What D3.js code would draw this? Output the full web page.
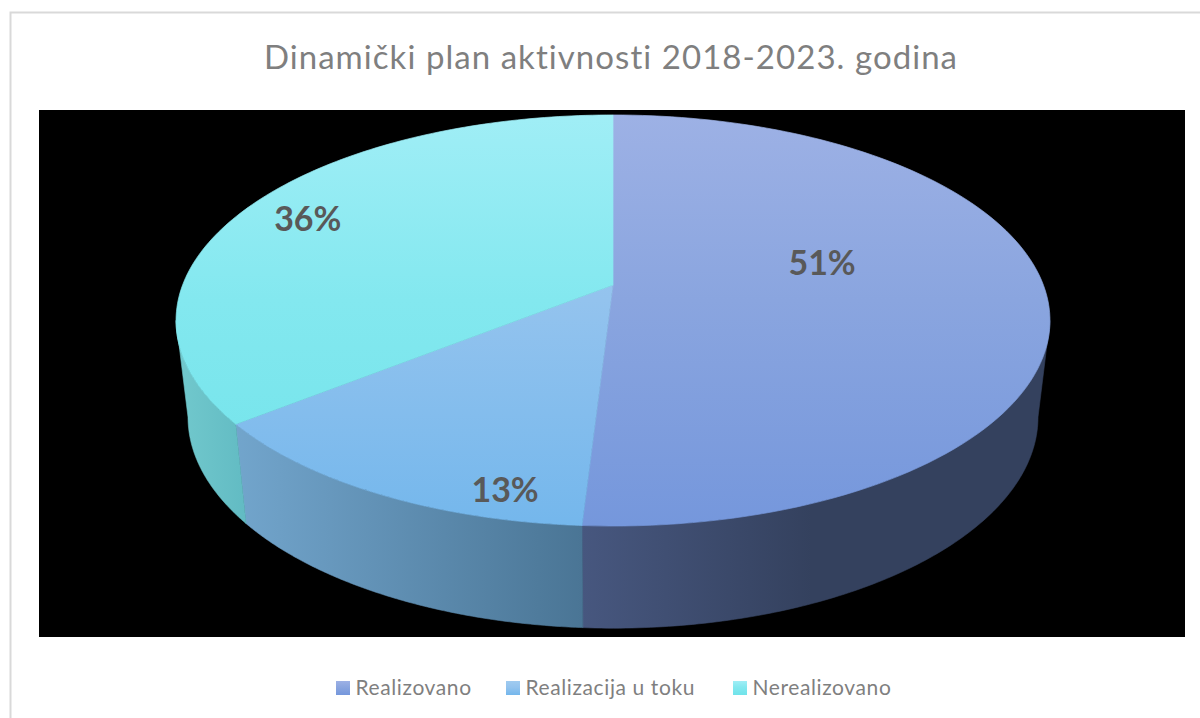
<!DOCTYPE html>
<html><head><meta charset="utf-8">
<script src="https://cdn.jsdelivr.net/npm/d3@7/dist/d3.min.js"></script>
<style>html,body{margin:0;padding:0;background:#fff}svg{display:block}</style>
</head><body><svg id="c" width="1200" height="718"></svg>
<script>
const categories = ["Realizovano", "Realizacija u toku", "Nerealizovano"];
const shares = [0.5095, 0.1335, 0.357];
const titleText = "Dinamički plan aktivnosti 2018-2023. godina";
const faceTop = ["#9db1e5", "#a0cbf0", "#a0eef6"];
const faceMid = ["#8aa5df", "#93c3ee", "#83e8ef"];
const faceBottom = ["#7597dc", "#74b7ec", "#70e3ea"];
const wallNear = ["#47577f", "#4a7595", "#62bbc3"];
const wallFar = ["#34415e", "#72a5cc", "#72c9cd"];

const svg = d3.select("#c");
const defs = svg.append("defs");

// Perspective projection of the pie disc
const C = -0.1727;
const proj = (plane, u, v) => {
  const d = 1 + C * v;
  return [plane.cx + plane.kx * u / d, plane.apex + plane.ky * v / d];
};
const topPlane = {cx: 613, apex: 285, kx: 430.4, ky: 199.4};
const lowPlane = {cx: 613, apex: 380.6, kx: 418.6, ky: 204.8};
const at = (plane, a, r = 1) => proj(plane, r * Math.sin(a), -r * Math.cos(a));

const pie = d3.pie().sort(null).value(d => d)(shares);
const line = d3.line();
const TAU = Math.PI * 2;
const rightEdge = Math.acos(C);           // silhouette angles
const leftEdge = TAU - rightEdge;
const span = (a0, a1) => d3.range(0, 121).map(i => a0 + (a1 - a0) * i / 120);

// background + frame
svg.append("rect").attr("x", 10.5).attr("y", 12.5).attr("width", 1300).attr("height", 800)
  .attr("fill", "#fff").attr("stroke", "#d9d9d9").attr("stroke-width", 2);
svg.append("rect").attr("x", 39).attr("y", 110).attr("width", 1146).attr("height", 527).attr("fill", "#000");

// gradients
pie.forEach((d, i) => {
  const addStops = g => {
    g.append("stop").attr("offset", 0).attr("stop-color", faceTop[i]);
    g.append("stop").attr("offset", 0.45).attr("stop-color", faceMid[i]);
    g.append("stop").attr("offset", 1).attr("stop-color", faceBottom[i]);
  };
  addStops(defs.append("linearGradient").attr("id", "face" + i).attr("gradientUnits", "userSpaceOnUse")
    .attr("x1", 0).attr("x2", 0).attr("y1", 115).attr("y2", 526));
  addStops(defs.append("linearGradient").attr("id", "leg" + i).attr("x1", 0).attr("x2", 0).attr("y1", 0).attr("y2", 1));
});

// walls
pie.forEach((d, i) => {
  const a0 = Math.max(d.startAngle, rightEdge), a1 = Math.min(d.endAngle, leftEdge);
  const angles = span(a0, a1);
  const upper = angles.map(a => at(topPlane, a));
  const lower = angles.map(a => at(lowPlane, a)).reverse();
  const xs = upper.concat(lower).map(p => p[0]);
  const g = defs.append("linearGradient").attr("id", "wall" + i).attr("gradientUnits", "userSpaceOnUse")
    .attr("y1", 0).attr("y2", 0)
    .attr("x1", i === 0 ? d3.min(xs) : d3.max(xs)).attr("x2", i === 0 ? d3.min(xs) + 230 : d3.min(xs));
  g.append("stop").attr("offset", 0).attr("stop-color", wallNear[i]);
  g.append("stop").attr("offset", 1).attr("stop-color", wallFar[i]);
  svg.append("path").attr("d", line(upper.concat(lower)) + "Z")
    .attr("fill", `url(#wall${i})`).attr("stroke", `url(#wall${i})`).attr("stroke-width", 0.6);
});

// top faces
pie.forEach((d, i) => {
  const rim = span(d.startAngle, d.endAngle).map(a => at(topPlane, a));
  svg.append("path").attr("d", line([[topPlane.cx, topPlane.apex], ...rim]) + "Z")
    .attr("fill", `url(#face${i})`).attr("stroke", `url(#face${i})`).attr("stroke-width", 0.7);
});

// title
svg.append("text").attr("x", 611).attr("y", 69).attr("text-anchor", "middle")
  .attr("font-family", "Lato").attr("font-size", 33).attr("letter-spacing", 1.05)
  .attr("fill", "#7f7f7f").text(titleText);

// data labels: hand placed inside each slice (turn, radius on the disc)
const labelSpots = [[0.2153, 0.507], [0.538, 0.90], [0.8195, 0.83]];
const fmt = d3.format(".0%");
shares.forEach((s, i) => {
  const [x, y] = at(topPlane, labelSpots[i][0] * TAU, labelSpots[i][1]);
  svg.append("text").attr("x", x).attr("y", y).attr("dy", "0.35em").attr("text-anchor", "middle")
    .attr("font-family", "Lato").attr("font-weight", 700).attr("font-size", 34)
    .attr("fill", "#595959").text(fmt(s));
});

// legend
const legendX = [336, 506, 733];
categories.forEach((c, i) => {
  svg.append("rect").attr("x", legendX[i]).attr("y", 681).attr("width", 14).attr("height", 14).attr("fill", `url(#leg${i})`);
  svg.append("text").attr("x", legendX[i] + 19.5).attr("y", 695)
    .attr("font-family", "Lato").attr("font-size", 21).attr("letter-spacing", 0.6)
    .attr("fill", "#7f7f7f").text(c);
});
</script></body></html>
